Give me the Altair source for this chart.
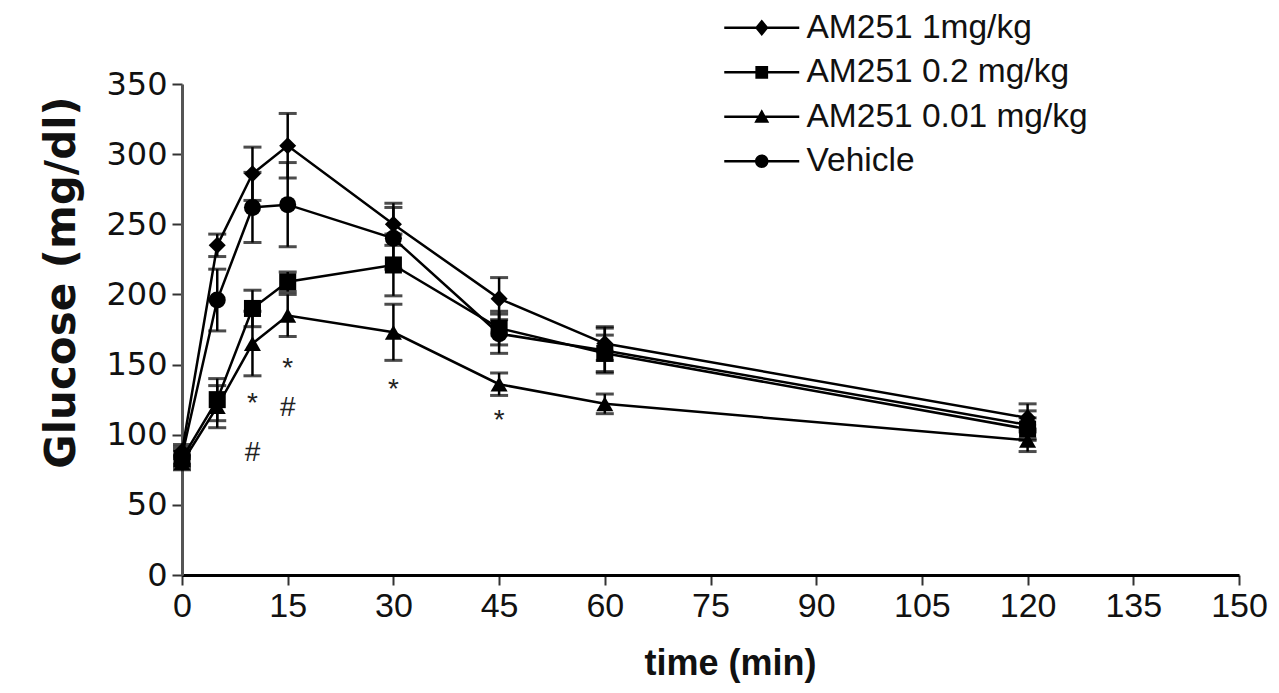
import altair as alt
import pandas as pd

# ---- data ----
time_min = [0, 5, 10, 15, 30, 45, 60, 120]
series_names = ["AM251 1mg/kg", "AM251 0.2 mg/kg", "AM251 0.01 mg/kg", "Vehicle"]

am251_1 = [88, 235, 286, 306, 250, 197, 165, 112]
am251_1_sem = [5, 8, 19, 23, 15, 15, 12, 10]
am251_02 = [83, 125, 190, 209, 221, 176, 158, 104]
am251_02_sem = [6, 15, 13, 7, 22, 12, 13, 8]
am251_001 = [80, 120, 165, 185, 173, 136, 122, 96]
am251_001_sem = [5, 15, 23, 15, 20, 8, 7, 8]
vehicle = [85, 196, 262, 264, 240, 172, 160, 107]
vehicle_sem = [6, 22, 25, 30, 22, 14, 16, 10]

ann_time = [10, 10, 15, 15, 30, 45]
ann_glucose = [122, 87, 147, 119, 132, 110]
ann_text = ["*", "#", "*", "#", "*", "*"]

x_ticks = [0, 15, 30, 45, 60, 75, 90, 105, 120, 135, 150]
y_ticks = [0, 50, 100, 150, 200, 250, 300, 350]

point_shapes = ["diamond", "square", "triangle-up", "circle"]
LINE = "M-5,-0.17H5V0.17H-5Z"
legend_paths = [
    LINE + "M0,-1.1L0.9,0L0,1.1L-0.9,0Z",
    LINE + "M-0.85,-0.85H0.85V0.85H-0.85Z",
    LINE + "M0,-1L1,0.8H-1Z",
    LINE + "M-0.9,0A0.9,0.9,0,1,1,0.9,0A0.9,0.9,0,1,1,-0.9,0Z",
]

rows = []
for name, vals, sems in zip(
    series_names,
    [am251_1, am251_02, am251_001, vehicle],
    [am251_1_sem, am251_02_sem, am251_001_sem, vehicle_sem],
):
    for t, v, s in zip(time_min, vals, sems):
        rows.append({"series": name, "time": t, "glucose": v, "lo": v - s, "hi": v + s})
df = pd.DataFrame(rows)
ann_df = pd.DataFrame({"time": ann_time, "glucose": ann_glucose, "txt": ann_text})

FONT = "Liberation Sans"

x_enc = alt.X(
    "time:Q",
    scale=alt.Scale(domain=[0, 150], nice=False),
    axis=alt.Axis(
        values=x_ticks, title="time (min)", grid=False, labelFlush=False,
        labelFont=FONT, labelFontSize=34, labelColor="#111",
        titleFont=FONT, titleFontSize=36, titleFontWeight="bold", titleColor="#111",
        domainColor="black", domainWidth=3, tickColor="#333", tickWidth=2, tickSize=10,
        labelPadding=4, titleX=548, titleY=88, titleBaseline="middle", titleAlign="center",
    ),
)
y_enc = alt.Y(
    "glucose:Q",
    scale=alt.Scale(domain=[0, 350], nice=False),
    axis=alt.Axis(
        values=y_ticks, title="Glucose (mg/dl)", grid=False, labelFlush=False,
        labelFont="DejaVu Sans", labelFontSize=32, labelColor="#111",
        titleFont="DejaVu Sans", titleFontSize=42, titleFontWeight="bold", titleColor="#111",
        domainColor="#555", domainWidth=3, tickColor="#333", tickWidth=2, tickSize=10,
        labelPadding=5, titleX=-121, titleY=198, titleAngle=270,
        titleBaseline="middle", titleAlign="center",
    ),
)

base = alt.Chart(df)

lines = base.mark_line(color="black", strokeWidth=2.5).encode(
    x=x_enc, y=y_enc, detail="series:N"
)
bars = base.mark_rule(color="black", strokeWidth=2.5).encode(
    x="time:Q", y="lo:Q", y2="hi:Q"
)
caps_hi = base.mark_tick(color="black", orient="horizontal", size=18, thickness=3).encode(
    x="time:Q", y="hi:Q"
)
caps_lo = base.mark_tick(color="black", orient="horizontal", size=18, thickness=3).encode(
    x="time:Q", y="lo:Q"
)
points = base.mark_point(filled=True, color="black", size=290, opacity=1).encode(
    x="time:Q", y="glucose:Q",
    shape=alt.Shape("series:N", scale=alt.Scale(domain=series_names, range=point_shapes), legend=None),
)
legend_layer = base.transform_filter("datum.time < 0").mark_point(
    filled=True, color="black", size=225, opacity=1
).encode(
    x="time:Q", y="glucose:Q",
    shape=alt.Shape(
        "series:N",
        scale=alt.Scale(domain=series_names, range=legend_paths),
        legend=alt.Legend(
            title=None, orient="none", legendX=563, legendY=-73,
            labelFont=FONT, labelFontSize=33.5, labelColor="#111", labelBaseline="middle",
            labelOffset=28, rowPadding=9.5, symbolSize=225, padding=0,
            symbolFillColor="black", symbolOpacity=1, labelLimit=400,
        ),
    ),
)
ann = alt.Chart(ann_df).mark_text(font=FONT, fontSize=28, color="#222", baseline="middle").encode(
    x="time:Q", y="glucose:Q", text="txt:N"
)

chart = (
    alt.layer(lines, bars, caps_hi, caps_lo, points, ann, legend_layer)
    .resolve_scale(shape="independent")
    .properties(
        width=1057, height=491,
        autosize=alt.AutoSizeParams(type="none"),
        padding={"left": 174, "top": 76, "right": 30, "bottom": 110},
        background="white",
    )
    .configure_view(stroke=None)
)

chart.save("out.html", embed_options={"renderer": "svg", "actions": False})
